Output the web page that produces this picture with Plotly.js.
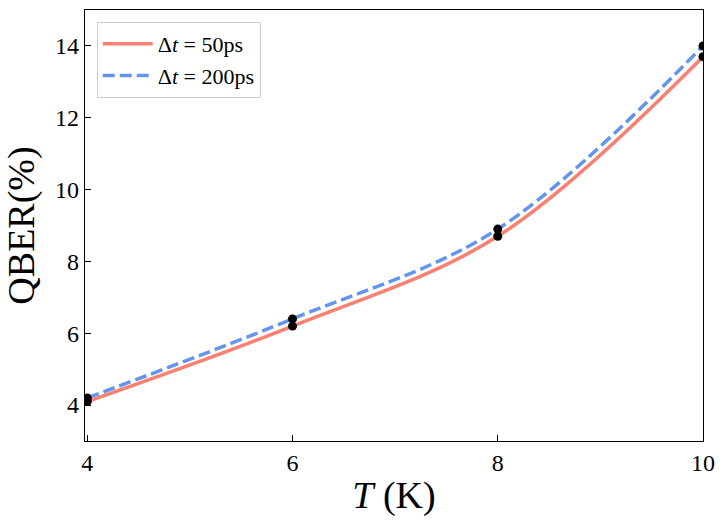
<!DOCTYPE html>
<html>
<head>
<meta charset="utf-8">
<script src="https://cdn.plot.ly/plotly-3.0.1.min.js"></script>
<style>html,body{margin:0;padding:0;background:#fff;}#chart{width:725px;height:525px;}</style>
</head>
<body>
<div id="chart"></div>
<script>
const temperatures = [4, 6, 8, 10];
const qber50 = [4.1, 6.2, 8.7, 13.7];
const qber200 = [4.2, 6.4, 8.9, 14.0];
const xTicks = [4, 6, 8, 10];
const yTicks = [4, 6, 8, 10, 12, 14];

const serif = "'Liberation Serif', 'DejaVu Serif', serif";

const traces = [
  {x: temperatures, y: qber50, mode: 'lines', name: 'Δ<i>t</i> = 50ps',
   line: {color: '#FA8072', width: 3.5, shape: 'spline', smoothing: 1}},
  {x: temperatures, y: qber200, mode: 'lines', name: 'Δ<i>t</i> = 200ps',
   line: {color: '#6495ED', width: 3.5, shape: 'spline', smoothing: 1, dash: '12px,5px'}},
  {x: temperatures, y: qber50, mode: 'markers', showlegend: false,
   marker: {color: 'black', size: 9}},
  {x: temperatures, y: qber200, mode: 'markers', showlegend: false,
   marker: {color: 'black', size: 9}}
];

const layout = {
  width: 725, height: 525,
  margin: {l: 85, r: 22, t: 10, b: 84},
  paper_bgcolor: '#fff', plot_bgcolor: '#fff',
  font: {family: serif, color: '#000'},
  showlegend: true,
  legend: {x: 0.019, y: 0.972, xanchor: 'left', yanchor: 'top',
    bgcolor: 'rgba(255,255,255,0.8)', bordercolor: '#cccccc', borderwidth: 1,
    font: {family: serif, size: 22}, itemwidth: 50, tracegroupgap: 2},
  xaxis: {range: [3.978, 10.0], tickvals: xTicks, ticktext: xTicks.map(String),
    ticks: 'inside', ticklen: 6, tickwidth: 1, tickcolor: '#000',
    showline: true, mirror: true, linecolor: '#000', linewidth: 1.2,
    showgrid: false, zeroline: false,
    tickfont: {family: serif, size: 24},
    title: {text: '<i>T</i> (K)', font: {family: serif, size: 38}, standoff: 6}},
  yaxis: {range: [3, 15], tickvals: yTicks, ticktext: yTicks.map(String),
    ticks: 'inside', ticklen: 6, tickwidth: 1, tickcolor: '#000',
    showline: true, mirror: true, linecolor: '#000', linewidth: 1.2,
    showgrid: false, zeroline: false,
    tickfont: {family: serif, size: 24},
    title: {text: 'QBER(%)', font: {family: serif, size: 38}, standoff: 12}}
};

Plotly.newPlot('chart', traces, layout, {staticPlot: true, displayModeBar: false});
</script>
</body>
</html>
